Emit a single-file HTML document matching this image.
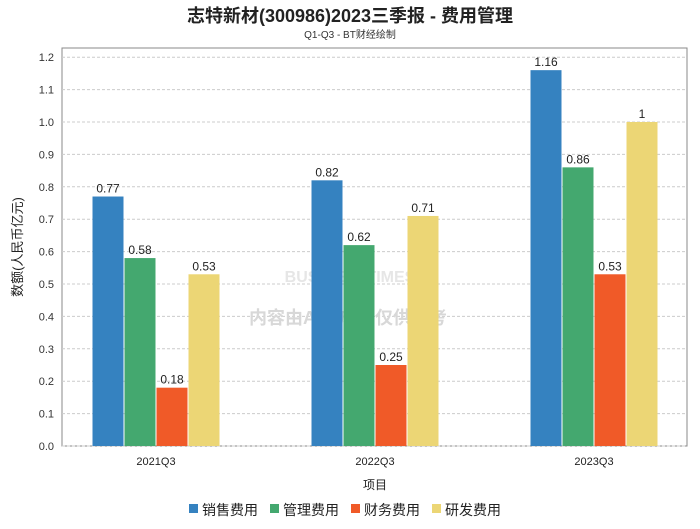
<!DOCTYPE html>
<html><head><meta charset="utf-8"><style>
body{margin:0;background:#fff;font-family:"Liberation Sans","Noto Sans CJK SC",sans-serif;}
svg text{font-family:"Liberation Sans","Noto Sans CJK SC",sans-serif;}
</style></head><body>
<svg id="c" width="700" height="524" xmlns="http://www.w3.org/2000/svg">
<text x="350" y="22" text-anchor="middle" font-size="18" font-weight="bold" fill="#222">志特新材(300986)2023三季报 - 费用管理</text>
<text x="350" y="38" text-anchor="middle" font-size="10" fill="#333">Q1-Q3 - BT财经绘制</text>
<rect x="62" y="48" width="625" height="398" fill="#fff" stroke="#888"/>
<g id="grid"></g>
<text x="350" y="282" text-anchor="middle" font-size="16" fill="#e6e6e6" font-weight="bold">BUSINESSTIMES</text>
<text x="348" y="324" text-anchor="middle" font-size="18" fill="#d8d8d8" font-weight="bold">内容由AI生成，仅供参考</text>
<g id="bars"></g><g id="axes"></g>
<text x="22" y="247" transform="rotate(-90 22 247)" text-anchor="middle" font-size="13" fill="#222">数额(人民币亿元)</text>
<text x="375" y="489" text-anchor="middle" font-size="12" fill="#222">项目</text>
<g id="legend"></g>
</svg>
<script>
const categories=["2021Q3","2022Q3","2023Q3"];
const seriesNames=["销售费用","管理费用","财务费用","研发费用"];
const sales=[0.77,0.82,1.16];
const admin=[0.58,0.62,0.86];
const finance=[0.18,0.25,0.53];
const rnd=[0.53,0.71,1];
const yTicks=[0,0.1,0.2,0.3,0.4,0.5,0.6,0.7,0.8,0.9,1.0,1.1,1.2];
const colors=["#3582c0","#44a86f","#f05a28","#ecd675"];
const series=[sales,admin,finance,rnd];
const NS="http://www.w3.org/2000/svg";
function y(v){return 446-v*324;}
function xc(i){return 156+i*219;}
function mk(tag,attrs,parent,text){const e=document.createElementNS(NS,tag);for(const k in attrs)e.setAttribute(k,attrs[k]);if(text!==undefined)e.textContent=text;document.getElementById(parent).appendChild(e);return e;}
yTicks.forEach(t=>{
  const g=mk('line',{x1:62,x2:687,y1:y(t),y2:y(t),stroke:'#ccc','stroke-dasharray':'3,2'},'grid');
  
  
  const l=mk('text',{x:54,y:y(t)+4,'text-anchor':'end','font-size':11,fill:'#333'},'axes',t.toFixed(1));
  
  
});
const bw=31,gap=1;
categories.forEach((c,i)=>{
  series.forEach((s,j)=>{
    const x=xc(i)-2*(bw+gap)+j*(bw+gap)+gap/2;
    const r=mk('rect',{x:x,y:y(s[i]),width:bw,height:446-y(s[i]),fill:colors[j]},'bars');
    
    
    const t=mk('text',{x:x+bw/2,y:y(s[i])-4,'text-anchor':'middle','font-size':12,fill:'#222'},'bars',String(s[i]));
    
    
  });
  const xl=mk('text',{x:xc(i),y:465,'text-anchor':'middle','font-size':11,fill:'#222'},'axes',c);
  
  
});
const lx=[189,270,351,432];
seriesNames.forEach((n,j)=>{
  const r=mk('rect',{x:lx[j],y:504,width:9,height:9,fill:colors[j]},'legend');
  
  
  const t=mk('text',{x:lx[j]+13,y:515,'font-size':14,fill:'#222'},'legend',n);
  
  
});
</script>
</body></html>
